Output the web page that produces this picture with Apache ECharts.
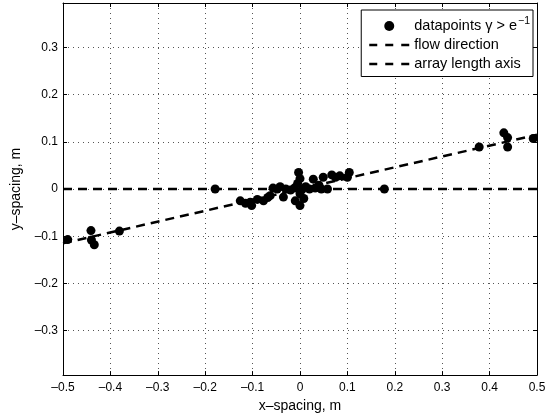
<!DOCTYPE html>
<html>
<head>
<meta charset="utf-8">
<script src="https://cdn.jsdelivr.net/npm/echarts@6/dist/echarts.min.js"></script>
<style>html,body{margin:0;padding:0;background:#fff;}#c{width:553px;height:418px;}</style>
</head>
<body>
<div id="c"></div>
<script>
// Data points (x-spacing, y-spacing) in metres
const pointsX = [-0.490, -0.441, -0.440, -0.434, -0.381, -0.179,
  -0.126, -0.115, -0.105, -0.102, -0.090, -0.077, -0.068, -0.063, -0.057, -0.048,
  -0.042, -0.035, -0.030, -0.020, -0.012, -0.010, -0.005, -0.003, 0.000, 0.000,
  0.000, 0.005, 0.008, 0.012, 0.020, 0.028, 0.032, 0.040, 0.045, 0.049, 0.058,
  0.067, 0.075, 0.084, 0.100, 0.104, 0.178,
  0.378, 0.430, 0.438, 0.438, 0.492];
const pointsY = [-0.107, -0.088, -0.108, -0.118, -0.089, 0.000,
  -0.025, -0.030, -0.028, -0.035, -0.022, -0.025, -0.018, -0.014, 0.002, 0.000,
  0.005, -0.017, 0.000, -0.002, 0.002, -0.025, 0.012, 0.035, 0.022, -0.010,
  -0.035, 0.000, -0.020, 0.005, 0.000, 0.021, 0.002, 0.008, 0.000, 0.025, 0.000,
  0.030, 0.025, 0.028, 0.025, 0.035, 0.000,
  0.089, 0.119, 0.109, 0.089, 0.107];
// Flow direction line endpoints
const flowX = [-0.5, 0.5];
const flowY = [-0.115, 0.115];
// Array length axis endpoints
const arrayX = [-0.5, 0.5];
const arrayY = [0, 0];
// Axis ranges / tick labels
const xRange = [-0.5, 0.5];
const yRange = [-0.394, 0.394];
const tickStep = 0.1;
const yTickLabels = [-0.3, -0.2, -0.1, 0, 0.1, 0.2, 0.3];
const seriesNames = ['datapoints', 'flow direction', 'array length axis'];

const zip = (a, b) => a.map((v, i) => [v, b[i]]);
const font = 'Liberation Sans, Arial, Helvetica, sans-serif';
const numText = v => {
  if (Math.abs(v) < 1e-9) return '0';
  return (v < 0 ? '\u2013' : '') + Math.abs(v).toFixed(1);
};
const fmtX = v => numText(v);
const fmtY = v => yTickLabels.some(t => Math.abs(t - v) < 1e-6) ? numText(v) : '';

const axisCommon = {
  type: 'value',
  axisLine: { show: true, onZero: false, lineStyle: { color: '#000', width: 1 } },
  axisTick: { show: true, inside: true, length: 4, lineStyle: { color: '#000' } },
  minInterval: tickStep, maxInterval: tickStep, splitNumber: 8
};
const labelCommon = { fontFamily: font, fontSize: 12, color: '#000', hideOverlap: false, showMinLabel: true, showMaxLabel: true };
const dotted = { show: true, lineStyle: { color: '#555', type: [1, 4], width: 1 } };
const dashIcon = 'path://M0,0h8v2.5h-8z M16,0h8v2.5h-8z M32,0h8v2.5h-8z';

const chart = echarts.init(document.getElementById('c'), null, { renderer: 'canvas' });
chart.setOption({
  animation: false,
  backgroundColor: '#fff',
  grid: { left: 63, right: 16, top: 3, bottom: 41, containLabel: false },
  xAxis: [
    Object.assign({}, axisCommon, {
      min: xRange[0], max: xRange[1], position: 'bottom',
      name: 'x\u2013spacing, m', nameLocation: 'middle', nameGap: 20,
      nameTextStyle: { fontFamily: font, fontSize: 14, color: '#000' },
      axisLabel: Object.assign({ formatter: fmtX, margin: 7 }, labelCommon),
      splitLine: dotted
    }),
    Object.assign({}, axisCommon, {
      min: xRange[0], max: xRange[1], position: 'top',
      axisLabel: { show: false }, splitLine: { show: false }
    })
  ],
  yAxis: [
    Object.assign({}, axisCommon, {
      min: yRange[0], max: yRange[1], position: 'left',
      name: 'y\u2013spacing, m', nameLocation: 'middle', nameGap: 40,
      nameTextStyle: { fontFamily: font, fontSize: 14, color: '#000' },
      axisLabel: Object.assign({ formatter: fmtY, margin: 5 }, labelCommon),
      splitLine: dotted
    }),
    Object.assign({}, axisCommon, {
      min: yRange[0], max: yRange[1], position: 'right',
      axisLabel: { show: false }, splitLine: { show: false }
    })
  ],
  legend: {
    orient: 'vertical', right: 20, top: 10,
    backgroundColor: '#fff', borderColor: '#000', borderWidth: 1, borderRadius: 0,
    padding: [6, 3, 5, 8], itemWidth: 40, itemHeight: 10, itemGap: 4,
    textStyle: {
      fontFamily: font, fontSize: 14.5, color: '#000',
      rich: {
        t: { fontFamily: font, fontSize: 14.5, color: '#000' },
        s: { fontFamily: font, fontSize: 10.5, color: '#000', padding: [0, 0, 9, 1] }
      }
    },
    formatter: name => name === seriesNames[0]
      ? '{t|datapoints \u03b3 > e}{s|\u22121}'
      : '{t|' + name + '}',
    data: [
      { name: seriesNames[0], icon: 'circle' },
      { name: seriesNames[1], icon: dashIcon },
      { name: seriesNames[2], icon: dashIcon }
    ]
  },
  series: [
    {
      name: seriesNames[1], type: 'line', data: zip(flowX, flowY),
      symbol: 'none', z: 2,
      lineStyle: { color: '#000', width: 2.5, type: [9, 6] },
      itemStyle: { color: '#000' }
    },
    {
      name: seriesNames[2], type: 'line', data: zip(arrayX, arrayY),
      symbol: 'none', z: 2,
      lineStyle: { color: '#000', width: 2.5, type: [9, 6] },
      itemStyle: { color: '#000' }
    },
    {
      name: seriesNames[0], type: 'scatter', data: zip(pointsX, pointsY),
      symbol: 'circle', symbolSize: 9, z: 3,
      itemStyle: { color: '#000', opacity: 1 }
    }
  ]
});
</script>
</body>
</html>
